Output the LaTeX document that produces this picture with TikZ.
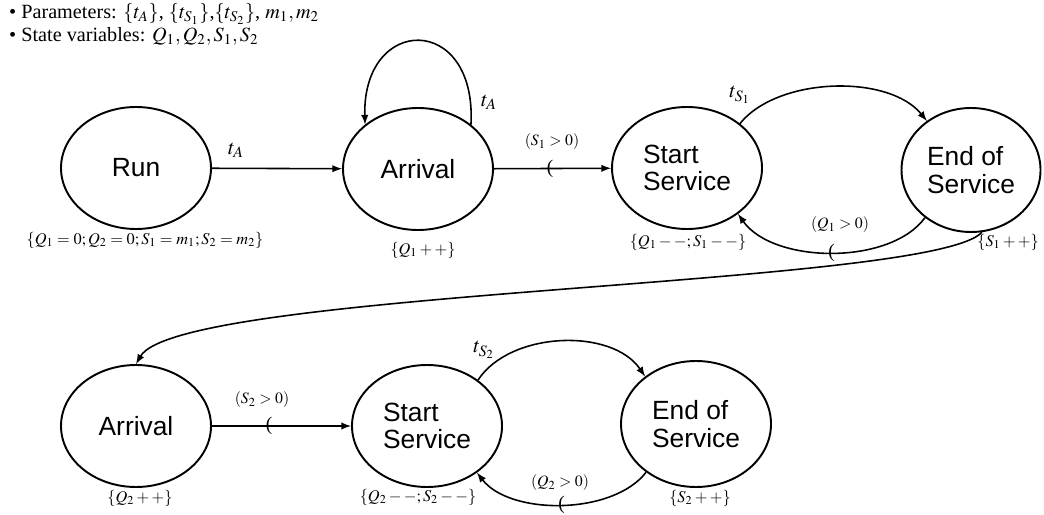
\documentclass[tikz,border=0pt]{standalone}
\usepackage{mathptmx}
\usepackage{fontspec}
\setmainfont{Liberation Serif}
\newfontfamily\statefont{Liberation Sans}
\usetikzlibrary{shapes,arrows,positioning,calc}

\begin{document}
\begin{tikzpicture}[x=0.2mm,y=-0.2mm,>=latex,
    state/.style={ellipse,draw,line width=1.1pt,minimum width=30mm,minimum height=24.4mm,
      inner sep=0pt,align=left,font=\statefont\fontsize{15}{15.5}\selectfont},
    trans/.style={->,line width=0.9pt},
    delay/.style={font=\fontsize{12}{13}\selectfont},
    cond/.style={font=\fontsize{9}{10}\selectfont},
    update/.style={font=\fontsize{9.3}{10}\selectfont},
    header/.style={anchor=west,font=\fontsize{11.5}{12}\selectfont},
    tick/.style={font=\fontsize{11}{12}\selectfont,inner sep=0pt}]
    \useasboundingbox (0,0) rectangle (1044,515);

    % header
    \node[header] (params) at (3,14) {\textbullet\ Parameters: $\{t_A\}$, $\{t_{S_1}\}$,$\{t_{S_2}\}$, $m_1, m_2$};
    \node[header] (vars) at (3,36) {\textbullet\ State variables: $Q_1, Q_2, S_1, S_2$};

    % first stage
    \node[state] (run) at (136,168) {Run};
    \node[state] (arr1) at (418,169) {Arrival};
    \node[state] (start1) at (687,168) {Start\\Service};
    \node[state, minimum width=27.8mm, minimum height=24.8mm] (end1) at (971,170) {End of\\Service};

    \draw[trans] (run) -- (arr1);
    \draw[trans] (arr1.40) .. controls +(6,-112) and +(-3,-110) .. (arr1.140);
    \draw[trans] (arr1) -- node[tick,pos=0.48] (tick1) {(} (start1);
    \draw[trans] (start1.40) .. controls +(38,-47) and +(-38,-47) .. (end1.132);
    \draw[trans] (end1.226) .. controls +(-35,48) and +(35,50) .. node[tick] (tick3) {(} (start1.-42);

    \node[delay] (tA1) at (236,150) {$t_A$};
    \node[delay] (tA2) at (489,102) {$t_A$};
    \node[cond] (c1) at (552,142) {$(S_1>0)$};
    \node[delay] (tS1) at (740,95) {$t_{S_1}$};
    \node[cond] (c3) at (840,225) {$(Q_1>0)$};

    \node[update] (u1) at (145,240) {$\{Q_1=0;Q_2=0;S_1=m_1;S_2=m_2\}$};
    \node[update] (u2) at (423,250) {$\{Q_1++\}$};
    \node[update] (u3) at (688,242) {$\{Q_1--;S_1--\}$};
    \node[update] (u4) at (1008,242) {$\{S_1++\}$};

    % second stage
    \node[state] (arr2) at (136,426) {Arrival};
    \node[state] (start2) at (427,426) {Start\\Service};
    \node[state, minimum height=25.2mm] (end2) at (696,424) {End of\\Service};

    \draw[trans] (end1.-80) .. controls +(-50,55) and +(43,-75) .. (arr2.north);
    \draw[trans] (arr2) -- node[tick,pos=0.41] (tick2) {(} (start2);
    \draw[trans] (start2.42) .. controls +(32,-49) and +(-33,-49) .. (end2.137);
    \draw[trans] (end2.224) .. controls +(-33,43) and +(33,43) .. node[tick] (tick4) {(} (start2.-43);

    \node[cond] (c2) at (262,400) {$(S_2>0)$};
    \node[delay] (tS2) at (484,350) {$t_{S_2}$};
    \node[cond] (c4) at (560,483) {$(Q_2>0)$};

    \node[update] (u5) at (140,498) {$\{Q_2++\}$};
    \node[update] (u6) at (418,497) {$\{Q_2--;S_2--\}$};
    \node[update] (u7) at (700,498) {$\{S_2++\}$};
\end{tikzpicture}
\end{document}
